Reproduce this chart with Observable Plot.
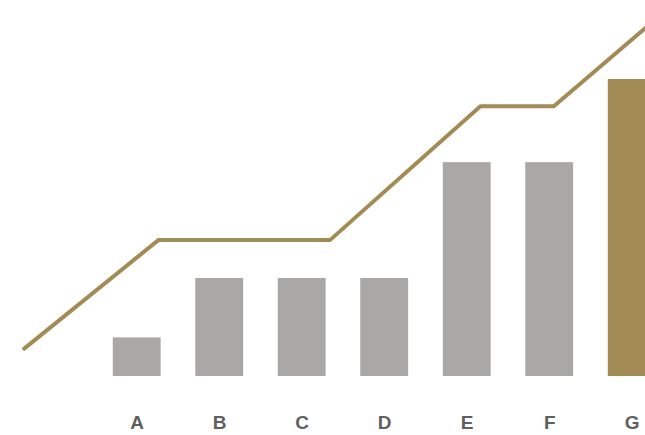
<!DOCTYPE html>
<html>
<head>
<meta charset="utf-8">
<script src="https://cdn.jsdelivr.net/npm/d3@7"></script>
<script src="https://cdn.jsdelivr.net/npm/@observablehq/plot@0.6"></script>
<style>
  html, body { margin: 0; padding: 0; background: #fff; overflow: hidden; }
</style>
</head>
<body>
<div id="chart"></div>
<script>
// Categories and bar values
const categories = ["A", "B", "C", "D", "E", "F", "G"];
const values = [13, 33, 33, 33, 72, 72, 100];
const highlighted = ["G"];

// Trend line vertices (x in category-index units, y in value units)
const lineX = [-1.37, 0.26, 2.34, 4.16, 5.05, 6.4];
const lineY = [9.4, 46, 46, 91, 91, 123];

const gold = "#a38b55";
const grey = "#a9a8a6";

const bars = categories.map((c, i) => ({ category: c, index: i, value: values[i] }));
const trend = lineX.map((x, i) => ({ x, y: lineY[i] }));
const halfWidth = 0.29;

const chart = Plot.plot({
  width: 645,
  height: 435,
  marginTop: 0,
  marginRight: 0,
  marginLeft: 0,
  marginBottom: 59,
  style: { fontFamily: "'Liberation Sans', Arial, sans-serif", background: "#fff" },
  x: { domain: [-1.657, 6.161], axis: null },
  y: { domain: [0, 126.6], axis: null },
  color: { type: "identity" },
  marks: [
    Plot.rectY(bars, {
      x1: d => d.index - halfWidth,
      x2: d => d.index + halfWidth,
      y: "value",
      fill: d => highlighted.includes(d.category) ? gold : grey,
      clip: "frame"
    }),
    Plot.lineY(trend, {
      x: "x",
      y: "y",
      stroke: gold,
      strokeWidth: 4,
      strokeLinejoin: "miter",
      clip: "frame"
    }),
    Plot.axisX(d3.range(categories.length), {
      label: null,
      tickSize: 0,
      tickPadding: 39,
      tickFormat: i => categories[i],
      fontSize: 19,
      fontWeight: "bold",
      color: "#5f5f5f"
    })
  ]
});

document.getElementById("chart").appendChild(chart);
</script>
</body>
</html>
